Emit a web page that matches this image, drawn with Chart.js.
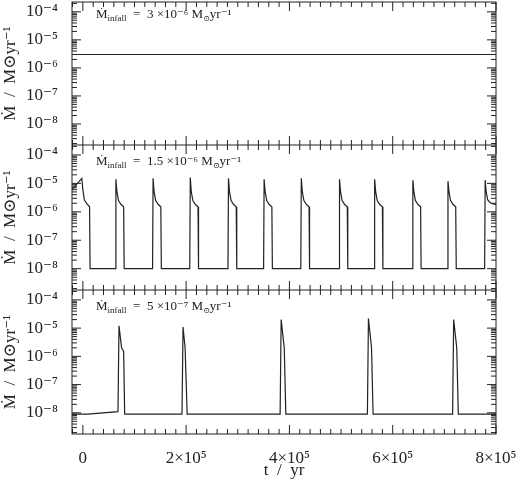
<!DOCTYPE html>
<html><head><meta charset="utf-8">
<script src="https://cdn.jsdelivr.net/npm/chart.js@4/dist/chart.umd.min.js"></script>
<style>
body{margin:0;background:#fff;width:520px;height:481px;position:relative;overflow:hidden}
.p{position:absolute;left:0;width:520px}
</style></head><body>
<div class="p" style="top:0;height:145px"><canvas id="c1"></canvas></div>
<div class="p" style="top:145px;height:145px"><canvas id="c2"></canvas></div>
<div class="p" style="top:290px;height:191px"><canvas id="c3"></canvas></div>
<script>
// panel data: [t (yr), Mdot (Msun/yr)]
var panel1 = [[-21000, 3e-6], [800000, 3e-6]];

var panel2 = [
  [-21000, 6e-6], [-2000, 1.5e-5], [0, 6e-6], [3000, 2.6e-6], [8000, 1.9e-6], [13000, 1.5e-6], [14000, 1e-8],
  [63000, 1e-8], [64000, 1.4e-5], [66000, 5e-6], [69000, 2.5e-6], [74000, 1.8e-6], [79000, 1.5e-6], [80000, 1e-8],
  [135000, 1e-8], [136000, 1.5e-5], [138000, 5e-6], [141000, 2.5e-6], [146000, 1.8e-6], [151000, 1.5e-6], [152000, 1e-8],
  [207000, 1e-8], [208000, 1.6e-5], [210000, 5e-6], [213000, 2.5e-6], [218000, 1.8e-6], [223000, 1.5e-6], [224000, 1e-8],
  [281000, 1e-8], [282000, 1.5e-5], [284000, 5e-6], [287000, 2.5e-6], [292000, 1.8e-6], [297000, 1.5e-6], [298000, 1e-8],
  [350000, 1e-8], [351000, 1.4e-5], [353000, 5e-6], [356000, 2.5e-6], [361000, 1.8e-6], [366000, 1.5e-6], [367000, 1e-8],
  [422000, 1e-8], [423000, 1.5e-5], [425000, 5e-6], [428000, 2.5e-6], [433000, 1.8e-6], [438000, 1.5e-6], [439000, 1e-8],
  [496000, 1e-8], [497000, 1.4e-5], [499000, 5e-6], [502000, 2.5e-6], [507000, 1.8e-6], [512000, 1.5e-6], [513000, 1e-8],
  [564000, 1e-8], [565000, 1.4e-5], [567000, 5e-6], [570000, 2.5e-6], [575000, 1.8e-6], [580000, 1.5e-6], [581000, 1e-8],
  [638000, 1e-8], [639000, 1.3e-5], [641000, 5e-6], [644000, 2.5e-6], [649000, 1.8e-6], [654000, 1.5e-6], [655000, 1e-8],
  [706000, 1e-8], [707000, 1.2e-5], [709000, 5e-6], [712000, 2.5e-6], [717000, 1.8e-6], [722000, 1.5e-6], [723000, 1e-8],
  [778000, 1e-8], [779000, 1.3e-5], [781000, 5e-6], [784000, 2.6e-6], [790000, 2e-6], [800000, 1.8e-6]
];

var panel3 = [
  [-21000, 9e-9], [10000, 9e-9], [68000, 1.1e-8], [70000, 1.2e-5], [75000, 2e-6], [79000, 1.5e-6], [81000, 9e-9],
  [192000, 9e-9], [194000, 1.1e-5], [198000, 2e-6], [202000, 9e-9],
  [382000, 9e-9], [384000, 2e-5], [390000, 2e-6], [393000, 9e-9],
  [551000, 9e-9], [553000, 2.2e-5], [559000, 2e-6], [562000, 9e-9],
  [716000, 9e-9], [718000, 2e-5], [724000, 2e-6], [727000, 9e-9],
  [800000, 9e-9]
];

var infallMant = ['3', '1.5', '5'];
var infallExp = ['⁻⁶', '⁻⁶', '⁻⁷'];
var yTickExp = [-4, -5, -6, -7, -8];
var xTickVals = [0, 200000, 400000, 600000, 800000];
var xTickLabels = ['0', '2×10⁵', '4×10⁵', '6×10⁵', '8×10⁵'];
var supDigits = {'-': '⁻', '4': '⁴', '5': '⁵', '6': '⁶', '7': '⁷', '8': '⁸'};

var FONT = '"Liberation Serif", "DejaVu Serif", serif';

var tickPlugin = {
  id: 'ticks',
  afterDraw: function (chart) {
    var ctx = chart.ctx, a = chart.chartArea, xs = chart.scales.x, ys = chart.scales.y;
    ctx.save();
    ctx.strokeStyle = '#222';
    ctx.lineWidth = 1;
    ctx.beginPath();
    for (var t = -20000; t <= 800000; t += 20000) {
      var px = xs.getPixelForValue(t);
      if (px < a.left || px > a.right) continue;
      var len = (t % 200000 === 0) ? 9 : 5;
      ctx.moveTo(px, a.bottom); ctx.lineTo(px, a.bottom - len);
      ctx.moveTo(px, a.top); ctx.lineTo(px, a.top + len);
    }
    for (var e = -9; e <= -4; e++) {
      for (var m = 1; m <= 9; m++) {
        var v = m * Math.pow(10, e);
        var py = ys.getPixelForValue(v);
        if (py < a.top || py > a.bottom) continue;
        var l = m === 1 ? 9 : 5;
        ctx.moveTo(a.left, py); ctx.lineTo(a.left + l, py);
        ctx.moveTo(a.right, py); ctx.lineTo(a.right - l, py);
      }
    }
    ctx.stroke();
    ctx.strokeRect(a.left, a.top, a.right - a.left, a.bottom - a.top);
    // annotation
    var i = chart.options.plugins.ticks.idx;
    var x = a.left + 24, y = a.top + (i === 0 ? 13 : 17);
    ctx.fillStyle = '#222';
    ctx.textBaseline = 'middle';
    ctx.font = '13px ' + FONT;
    ctx.fillText('Ṁ', x, y);
    x += ctx.measureText('Ṁ').width;
    ctx.font = '9px ' + FONT;
    ctx.fillText('infall', x, y + 4);
    x += ctx.measureText('infall').width;
    ctx.font = '13px ' + FONT;
    var s = '  =  ' + infallMant[i] + ' ×10' + infallExp[i] + ' M';
    ctx.fillText(s, x, y);
    x += ctx.measureText(s).width;
    ctx.font = '8px ' + FONT;
    ctx.fillText('⊙', x, y + 4);
    x += ctx.measureText('⊙').width;
    ctx.font = '13px ' + FONT;
    ctx.fillText('yr⁻¹', x, y);
    ctx.restore();
  }
};

function makeChart(id, data, idx, bottom) {
  new Chart(document.getElementById(id), {
    type: 'line',
    data: { datasets: [{ data: data.map(function (d) { return { x: d[0], y: d[1] }; }),
      borderColor: '#222', borderWidth: 1.2, pointRadius: 0, tension: 0 }] },
    options: {
      animation: false, responsive: true, maintainAspectRatio: false,
      layout: { padding: { left: 0, right: 24, top: idx === 0 ? 2 : 0, bottom: 0 } },
      plugins: { legend: { display: false }, tooltip: { enabled: false }, ticks: { idx: idx } },
      scales: {
        x: {
          type: 'linear', min: -21000, max: 800000, display: bottom,
          grid: { display: false }, border: { display: false },
          afterBuildTicks: function (s) { s.ticks = xTickVals.map(function (v) { return { value: v }; }); },
          afterFit: function (s) { s.height = bottom ? 47 : 0; s.paddingLeft = 0; s.paddingRight = 0; },
          ticks: { display: bottom, color: '#222', padding: 6, maxRotation: 0, font: { family: FONT, size: 17 },
            callback: function (v) { return xTickLabels[xTickVals.indexOf(v)]; } },
          title: { display: bottom, text: 't  /  yr', color: '#222', padding: 0, font: { family: FONT, size: 17 } }
        },
        y: {
          type: 'logarithmic', min: Math.pow(10, -8.75), max: Math.pow(10, -3.65),
          grid: { display: false }, border: { display: false },
          afterBuildTicks: function (s) { s.ticks = yTickExp.map(function (e) { return { value: Math.pow(10, e) }; }); },
          afterFit: function (s) { s.width = 72; s.paddingTop = 0; s.paddingBottom = 0; },
          ticks: { color: '#222', padding: 6, font: { family: FONT, size: 17 },
            callback: function (v) {
              var e = Math.round(Math.log10(v));
              return '10' + String(e).split('').map(function (c) { return supDigits[c]; }).join('');
            } },
          title: { display: true, text: 'Ṁ  /  M⊙yr⁻¹', color: '#222', padding: 0, font: { family: FONT, size: 17 } }
        }
      }
    },
    plugins: [tickPlugin]
  });
}

makeChart('c1', panel1, 0, false);
makeChart('c2', panel2, 1, false);
makeChart('c3', panel3, 2, true);
</script>
</body></html>
